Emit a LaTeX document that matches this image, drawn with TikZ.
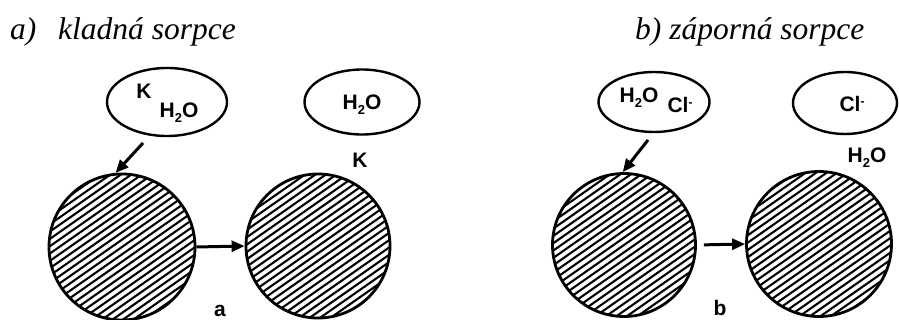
\documentclass[tikz,border=0pt]{standalone}
\usepackage{fontspec}
\setmainfont{Liberation Serif}
\newfontfamily\labfont{Liberation Sans}
\usetikzlibrary{arrows.meta,shapes.geometric}
\newcommand\wat{H\raisebox{-5pt}{\fontsize{13}{13}\selectfont 2}O}
\newcommand\chl{Cl\raisebox{6pt}{\fontsize{12}{12}\selectfont -}}
\tikzset{
  title/.style={font=\fontsize{31.5}{36}\selectfont\itshape, anchor=base west, inner sep=0pt},
  chem/.style={font=\labfont\bfseries\fontsize{21}{24}\selectfont, anchor=base, inner sep=0pt},
  bubble/.style={draw, ellipse, line width=2.4pt, inner sep=0pt},
  grain/.style={draw, circle, line width=2.8pt, inner sep=0pt, minimum size=#1,
    path picture={
        \foreach \k in {-16,...,16}{\draw[line width=2.1pt]
          (path picture bounding box.center)
          ++({\k*6*sin(35)-100*cos(35)},{\k*6*cos(35)+100*sin(35)})
          -- ++({200*cos(35)},{-200*sin(35)});}
      }},
  arr/.style={line width=3pt, -{Triangle[length=13pt,width=11pt]}}
}
\begin{document}
\begin{tikzpicture}[x=1pt,y=-1pt]
\useasboundingbox (0,0) rectangle (899,320);
% titles
\node[title] (ta) at (10,40) {a)};
\node[title] (tka) at (58,40) {kladná sorpce};
\node[title] (tb) at (635,40) {b) záporná sorpce};
% ellipses
\node[bubble, minimum width=120pt, minimum height=68pt] (e1) at (167,102) {};
\node[bubble, minimum width=115pt, minimum height=65pt] (e2) at (362,102) {};
\node[bubble, minimum width=111pt, minimum height=60pt] (e3) at (654,102) {};
\node[bubble, minimum width=104pt, minimum height=62pt] (e4) at (845,103) {};
% labels
\node[chem] (k1) at (144,99) {K};
\node[chem] (w1) at (179,118) {\wat};
\node[chem] (w2) at (362,110) {\wat};
\node[chem] (k2) at (360,168) {K};
\node[chem] (w3) at (639,103) {\wat};
\node[chem] (cl3) at (680,113) {\chl};
\node[chem] (cl4) at (852,112) {\chl};
\node[chem] (w4) at (867,163) {\wat};
\node[chem] (la) at (220,316) {a};
\node[chem] (lb) at (720,315) {b};
% grains
\node[grain=146pt] (c1) at (122,247) {};
\node[grain=144pt] (c2) at (318,246) {};
\node[grain=143pt] (c3) at (624,245) {};
\node[grain=145pt] (c4) at (819,244) {};
% arrows
\coordinate (s1) at (143,143);
\coordinate (s3) at (648,140);
\draw[arr] (s1) -- (c1.95);
\draw[arr] (s3) -- (c3.91);
\draw[arr] (c1.east) -- (c2.west);
\draw[arr, shorten <=7pt] (c3.east) -- (c4.west);
\end{tikzpicture}
\end{document}
